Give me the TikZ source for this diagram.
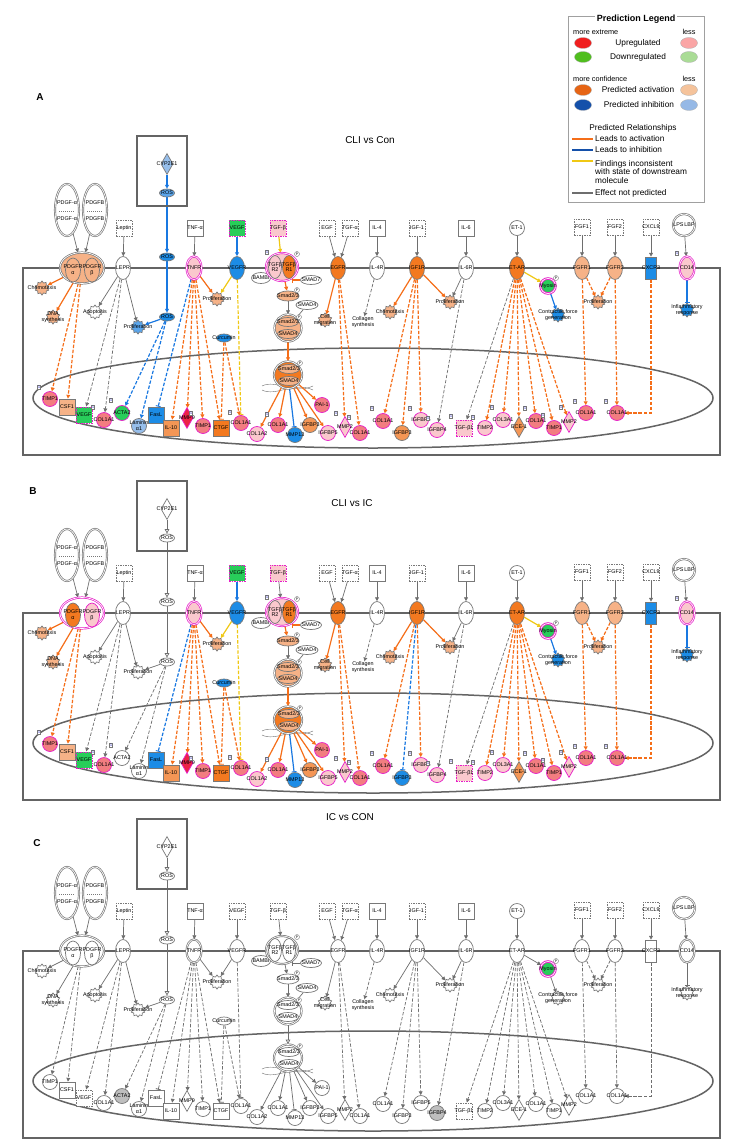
\documentclass[tikz,border=0pt]{standalone}
\usepackage{fontspec}
\setmainfont{Liberation Sans}
\usetikzlibrary{arrows.meta,shapes.geometric}
\pgfdeclarelayer{bg}
\pgfsetlayers{bg,main}
\definecolor{orS}{RGB}{243,121,32}
\definecolor{orM}{RGB}{244,150,85}
\definecolor{orL}{RGB}{246,178,135}
\definecolor{pkS}{RGB}{242,125,128}
\definecolor{pkL}{RGB}{250,200,205}
\definecolor{grn}{RGB}{40,205,90}
\definecolor{blS}{RGB}{28,140,230}
\definecolor{blM}{RGB}{90,165,235}
\definecolor{blL}{RGB}{150,190,235}
\definecolor{redS}{RGB}{235,35,70}
\definecolor{mag}{RGB}{230,30,200}
\definecolor{gry}{RGB}{120,120,120}
\definecolor{gryF}{RGB}{190,190,190}
\definecolor{memC}{RGB}{100,100,100}
\definecolor{actC}{RGB}{245,110,25}
\definecolor{inhC}{RGB}{25,120,225}
\definecolor{yelC}{RGB}{240,200,20}
\definecolor{npC}{RGB}{110,110,110}
\definecolor{legC}{RGB}{160,160,160}
\definecolor{lgR}{RGB}{240,30,30}
\definecolor{lgRl}{RGB}{250,165,165}
\definecolor{lgG}{RGB}{80,190,30}
\definecolor{lgGl}{RGB}{170,220,150}
\definecolor{lgO}{RGB}{230,100,20}
\definecolor{lgOl}{RGB}{245,195,155}
\definecolor{lgB}{RGB}{20,80,170}
\definecolor{lgBl}{RGB}{150,185,230}
\colorlet{ACT}{actC}\colorlet{INH}{inhC}\colorlet{YEL}{yelC}
\newcommand\lbf{\fontsize{5.4}{5.9}\selectfont}
\newcount\pnl
\def\pickof#1/#2/#3\relax{\ifcase\pnl\def\pk{#1}\or\def\pk{#2}\else\def\pk{#3}\fi}
\newcommand\W{white/white/white}
\newcommand\G{gry/gry/gry}
\newcommand\M{mag/mag/gry}
\newcommand\mol[6]{%
 \expandafter\pickof#5\relax\let\ff\pk
 \expandafter\pickof#6\relax\let\bb\pk
 \node[#1,fill=\ff,draw=\bb] (#2) at (#3) {};
 \node[lb] (#2t) at (#3) {#4};}
\tikzset{
 x=1pt,y=-1pt,
 lb/.style={font=\lbf,align=center,inner sep=0pt,text=black},
 shp/.style={inner sep=0pt,line width=0.7pt},
 sq/.style={shp,rectangle,minimum width=16,minimum height=16},
 sqd/.style={sq,dash pattern=on 1.5pt off 1pt},
 cir/.style={shp,circle,minimum size=15},
 rec/.style={shp,ellipse,minimum width=15,minimum height=23},
 chem/.style={shp,ellipse,minimum width=15,minimum height=8},
 dia/.style={shp,diamond,minimum width=12,minimum height=21},
 gear/.style={shp,star,star points=10,star point ratio=1.35,minimum size=14},
 dbl/.style={double=white,double distance=0.7pt},
 edgebase/.style={line width=1.2pt},
 dsh/.style={dash pattern=on 3.4pt off 1.7pt},
 tipT/.style={-{Triangle[width=3.8pt,length=3.8pt]}},
 tipB/.style={-{Bar[width=5pt,line width=0.9pt]}},
 act/.style={edgebase,draw=ACT,tipT},
 actd/.style={act,dsh},
 actT/.style={edgebase,draw=ACT,tipB},
 actdT/.style={actT,dsh},
 inh/.style={edgebase,draw=INH,tipB},
 inhd/.style={inh,dsh},
 blu/.style={edgebase,draw=INH,tipT},
 blud/.style={blu,dsh},
 yel/.style={edgebase,draw=YEL,tipT},
 yeldT/.style={edgebase,draw=YEL,tipB,dsh},
 np/.style={line width=0.7pt,draw=npC,tipT},
 npd/.style={np,dsh},
 npl/.style={line width=0.7pt,draw=npC},
 npo/.style={line width=0.7pt,draw=npC,-{Triangle[open,width=4.5pt,length=4.5pt]}},
 mem/.style={line width=1.5pt,draw=memC},
 onebox/.style={draw=gry,fill=white,font=\fontsize{3.5}{4}\selectfont,text=blue!70!black,inner sep=0.7pt},
 pc/.style={circle,draw=gry,fill=white,inner sep=0pt,minimum size=5,font=\fontsize{3.5}{4}\selectfont},
 ttl/.style={font=\bfseries\fontsize{10}{12}\selectfont},
 sub/.style={font=\fontsize{10}{12}\selectfont},
 lgs/.style={font=\fontsize{7.3}{8}\selectfont,inner sep=0pt},
 lgt/.style={font=\fontsize{8.3}{9}\selectfont,inner sep=0pt},
 lge/.style={ellipse,minimum width=17,minimum height=11,inner sep=0pt,draw=gry!60,line width=0.3pt},
}
\newcommand\setA{\pnl=0 \colorlet{ACT}{actC}\colorlet{INH}{inhC}\colorlet{YEL}{yelC}%
 \tikzset{X1/.style={blu},X2/.style={blud},X3/.style={actd},X4/.style={yel},X5/.style={blu},X6/.style={act}}}
\newcommand\setB{\pnl=1 \colorlet{ACT}{actC}\colorlet{INH}{inhC}\colorlet{YEL}{yelC}%
 \tikzset{X1/.style={npo},X2/.style={npd},X3/.style={inhd},X4/.style={np},X5/.style={np},X6/.style={act}}}
\newcommand\setC{\pnl=2 \colorlet{ACT}{npC}\colorlet{INH}{npC}\colorlet{YEL}{npC}%
 \tikzset{edgebase/.style={line width=0.7pt},X1/.style={npo},X2/.style={npd},X3/.style={npd},X4/.style={np},X5/.style={np},X6/.style={npo}}}
\newcommand\panel[1]{%
\begin{scope}[yshift=#1]
\draw[mem,line width=1.8pt] (137,136) rectangle (187,206);
% ---------- top ligands
\node[shp,ellipse,draw=gry,dbl,fill=white,minimum width=24,minimum height=52] (pdgfa) at (67,210) {};
\node[shp,ellipse,draw=gry,dbl,fill=white,minimum width=24,minimum height=52] (pdgfb) at (95,210) {};
\draw[gry,dash pattern=on 1pt off 1pt,line width=0.4pt] (59,211) -- (75,211) (87,211) -- (103,211);
\node[lb] (pdgfat1) at (67,203) {PDGF-α};
\node[lb] (pdgfat2) at (67,219) {PDGF-α};
\node[lb] (pdgfbt1) at (95,203) {PDGFB};
\node[lb] (pdgfbt2) at (95,219) {PDGFB};
\mol{sqd}{leptin}{124,228}{Leptin}{\W}{\G}
\mol{sq}{tnfa}{195,228}{TNF-α}{\W}{\G}
\mol{sqd,line width=1pt}{vegf}{237,228}{VEGF}{grn/grn/white}{\M}
\mol{sqd,line width=1pt}{tgfb}{278,228}{TGF-β}{pkL/pkL/white}{\M}
\mol{sqd}{egf}{327,228}{EGF}{\W}{\G}
\mol{sqd}{tgfa}{350,228}{TGF-α}{\W}{\G}
\mol{sq}{il4}{377,228}{IL-4}{\W}{\G}
\mol{sqd}{igf1}{417,228}{IGF-1}{\W}{\G}
\mol{sq}{il6}{466,228}{IL-6}{\W}{\G}
\mol{cir}{et1}{517,228}{ET-1}{\W}{\G}
\mol{sqd}{fgf1}{582,227}{FGF1}{\W}{\G}
\mol{sqd}{fgf2}{615,227}{FGF2}{\W}{\G}
\mol{sqd}{cxcl9}{651,227}{CXCL9}{\W}{\G}
\mol{shp,circle,dbl,minimum size=22}{lps}{684,225}{LPS\,LBP}{\W}{\G}
% ---------- ROS
\mol{dia}{cyp}{167,164}{CYP2E1}{blL/white/white}{\G}
\mol{chem}{rosA}{167,193}{ROS}{blM/white/white}{\G}
\mol{chem}{rosB}{167,257}{ROS}{blS/white/white}{\G}
\mol{chem}{rosC}{167,317}{ROS}{blS/white/white}{\G}
% ---------- membrane
\mol{shp,ellipse,dbl,minimum width=44,minimum height=31}{pdgfr}{82,268}{}{orL/white/white}{gry/mag/gry}
\mol{shp,ellipse,minimum width=15,minimum height=24}{pdgfra}{73,270}{PDGFR\\α}{orL/orS/white}{\G}
\mol{shp,ellipse,minimum width=15,minimum height=24}{pdgfrb}{92,270}{PDGFR\\β}{orL/pkL/white}{gry/mag/gry}
\mol{rec}{lepr}{123,268}{LEPR}{\W}{\G}
\mol{rec,dbl}{tnfr}{194,268}{TNFR}{pkL/pkL/white}{\M}
\mol{rec}{vegfr}{237,268}{VEGFR}{blS/blS/white}{\G}
\mol{shp,ellipse,minimum width=19,minimum height=11}{bambi}{261,278}{BAMBI}{\W}{\G}
\mol{shp,ellipse,dbl,minimum width=32,minimum height=28}{tgfbr}{282,267}{}{pkL/pkL/white}{\M}
\mol{shp,ellipse,minimum width=13,minimum height=23}{tgfr2}{275,267}{TGFβ\\R2}{pkL/pkL/white}{\G}
\mol{shp,ellipse,minimum width=13,minimum height=23}{tgfr1}{289,267}{TGFβ\\R1}{orS/orS/white}{\G}
\mol{shp,ellipse,minimum width=21,minimum height=9}{smad7}{311,280}{SMAD7}{\W}{\G}
\mol{shp,ellipse,minimum width=22,minimum height=10}{smad23}{288,296}{Smad2/3}{orL/orL/white}{\G}
\mol{shp,ellipse,minimum width=22,minimum height=9}{smad4}{307,305}{SMAD4}{\W}{\G}
\mol{shp,ellipse,dbl,minimum width=27,minimum height=27}{cplx}{288,328}{}{orL/orL/white}{\G}
\mol{shp,ellipse,minimum width=21,minimum height=9}{cxa}{288,322}{Smad2/3}{orL/orL/white}{\G}
\mol{shp,ellipse,minimum width=21,minimum height=9}{cxb}{288,334}{SMAD4}{orL/orL/white}{\G}
\mol{shp,ellipse,dbl,minimum width=28,minimum height=27}{nuc}{288,375}{}{orS/orS/white}{\G}
\mol{shp,ellipse,minimum width=21,minimum height=9}{nua}{289,369}{Smad2/3}{orL/orL/white}{\G}
\mol{shp,ellipse,minimum width=21,minimum height=9}{nub}{289,381}{SMAD4}{orL/orL/white}{\G}
\mol{rec}{egfr}{338,268}{EGFR}{orS/orS/white}{\G}
\mol{rec}{il4r}{377,268}{IL-4R}{\W}{\G}
\mol{rec}{igf1r}{417,268}{IGF1R}{orS/orS/white}{\G}
\mol{rec}{il6r}{466,268}{IL-6R}{\W}{\G}
\mol{rec}{etar}{517,268}{ET-AR}{orS/orS/white}{\G}
\mol{cir,dbl,line width=0.9pt}{myo}{548,286}{Myosin}{grn/grn/grn}{mag/mag/mag}
\mol{rec}{fgfr1}{582,268}{FGFR1}{orL/orL/white}{\G}
\mol{rec}{fgfr2}{615,268}{FGFR2}{orL/orL/white}{\G}
\mol{shp,rectangle,minimum width=11,minimum height=22}{cxcr3}{651,268}{CXCR3}{blS/blS/white}{\G}
\mol{rec,dbl}{cd14}{687,268}{CD14}{pkL/pkL/white}{\M}
% ---------- functions
\mol{gear}{chemoA}{42,288}{Chemotaxis}{orL/orL/white}{\G}
\mol{gear}{dna}{53,317}{DNA\\synthesis}{orL/orL/white}{\G}
\mol{gear}{apop}{95,312}{Apoptosis}{\W}{\G}
\mol{gear}{prolA}{138,327}{Proliferation}{blM/white/white}{\G}
\mol{gear}{prolT}{217,299}{Proliferation}{orL/orL/white}{\G}
\mol{chem}{curc}{224,338}{Curcumin}{blS/blS/white}{\G}
\mol{gear}{cmig}{325,320}{Cell\\migration}{orL/orL/white}{\G}
\node[lb] (csyn) at (363,322) {Collagen\\synthesis};
\mol{gear}{chemoB}{390,312}{Chemotaxis}{orL/orL/white}{\G}
\mol{gear}{prolI}{450,302}{Proliferation}{orL/orL/white}{\G}
\mol{gear}{contr}{558,315}{Contractile force\\generation}{blS/blS/white}{\G}
\mol{gear}{prolF}{598,302}{Proliferation}{orL/orL/white}{\G}
\mol{gear}{infl}{687,310}{Inflammatory\\response}{blS/blS/white}{\G}
% ---------- nucleus targets
\mol{cir}{timpA}{50,399}{TIMP1}{pkS/pkS/white}{\M}
\mol{sq}{csf1}{67,407}{CSF1}{orL/orL/white}{\G}
\mol{sqd,line width=1pt}{vegfB}{84,415}{VEGF}{grn/grn/white}{\M}
\mol{cir}{colA}{104,420}{COL1A1}{pkS/pkS/white}{\M}
\mol{cir}{acta2}{122,413}{ACTA2}{grn/white/gryF}{mag/gry/gry}
\mol{cir}{lam}{139,426}{Laminin\\α1}{blL/white/white}{\G}
\mol{sq}{fasl}{156,415}{FasL}{blS/blS/white}{\G}
\mol{sq}{il10}{171,428}{IL-10}{orM/orM/white}{\G}
\mol{dia}{mmp9}{187,418}{MMP9}{redS/redS/white}{\M}
\mol{cir}{timpB}{203,426}{TIMP1}{pkS/pkS/white}{\M}
\mol{sq}{ctgf}{221,428}{CTGF}{orS/orS/white}{\G}
\mol{cir}{colB}{241,423}{COL1A1}{pkS/pkS/white}{\M}
\mol{cir}{cola2}{257,434}{COL1A2}{pkL/pkL/white}{\M}
\mol{cir}{colC}{278,425}{COL1A1}{pkS/pkS/white}{\M}
\mol{cir}{mmp13}{295,435}{MMP13}{blS/blS/white}{\G}
\mol{cir}{igfbp3a}{310,425}{IGFBP3}{orM/orM/white}{\G}
\mol{cir}{pai1}{322,405}{PAI-1}{pkS/pkS/white}{\M}
\mol{cir}{igfbp5a}{328,433}{IGFBP5}{pkL/pkL/white}{\M}
\mol{dia}{mmp2a}{345,427}{MMP2}{pkL/pkL/white}{\M}
\mol{cir}{colD}{360,433}{COL1A1}{pkS/pkS/white}{\M}
\mol{cir}{colE}{383,421}{COL1A1}{pkS/pkS/white}{\M}
\mol{cir}{igfbp3b}{402,433}{IGFBP3}{orM/blS/white}{\G}
\mol{cir}{igfbp5b}{421,420}{IGFBP5}{pkL/pkL/white}{\M}
\mol{cir}{igfbp4}{437,430}{IGFBP4}{pkL/pkL/gryF}{\M}
\mol{sqd,line width=1pt}{tgfb1}{464,428}{TGF-β1}{pkL/pkL/white}{\M}
\mol{cir}{timp2}{485,428}{TIMP2}{pkL/pkL/white}{\M}
\mol{cir}{col3}{503,420}{COL3A1}{pkL/pkL/white}{\M}
\mol{dia}{ece1}{519,427}{ECE-1}{orM/orM/white}{\G}
\mol{cir}{colF}{536,421}{COL1A1}{pkS/pkS/white}{\M}
\mol{cir}{timpC}{554,428}{TIMP1}{pkS/pkS/white}{\M}
\mol{dia}{mmp2b}{569,422}{MMP2}{pkL/pkL/white}{\M}
\mol{cir}{colG}{586,413}{COL1A1}{pkS/pkS/white}{\M}
\mol{cir}{colH}{617,413}{COL1A1}{pkS/pkS/white}{\M}
% ---------- phospho and count marks
\foreach \q [count=\i] in {{297,254},{297,290},{299,317},{300,363},{556,278}}
  \node[pc] (ph\i) at (\q) {P};
\ifnum\pnl<2
\foreach \q [count=\i] in {{39,387},{93,407},{111,400},{191,413},{230,412},{267,414},{336,413},{349,417},{372,408},{410,408},{428,418},{451,416},{473,417},{492,407},{525,408},{543,415},{561,407},{575,401},{606,401},{677,253},{267,252}}
  \node[onebox] (one\i) at (\q) {1};
\fi
\coordinate (s7t) at (292,280);
% ---------- connectors
\begin{pgfonlayer}{bg}
\draw[mem] (23,268) -- (720,268) -- (720,455) -- (23,455) -- cycle;
\draw[mem] (373,398) ellipse [x radius=340, y radius=50];
\draw[npl,line width=0.4pt] (262,386) .. controls (276,379) and (294,395) .. (313,386);
\draw[npl,line width=0.4pt] (262,390) .. controls (276,397) and (294,381) .. (313,390);
\draw[np] (pdgfa) -- (pdgfr);
\draw[np] (pdgfb) -- (pdgfr);
\draw[np] (leptin) -- (lepr);
\draw[np] (tnfa) -- (tnfr);
\draw[blu] (vegf) -- (vegfr);
\draw[X4] (tgfb) -- (tgfbr);
\draw[np] (egf) -- (egfr);
\draw[np] (tgfa) -- (egfr);
\draw[np] (il4) -- (il4r);
\draw[np] (igf1) -- (igf1r);
\draw[np] (il6) -- (il6r);
\draw[np] (et1) -- (etar);
\draw[np] (fgf1) -- (fgfr1);
\draw[np] (fgf2) -- (fgfr2);
\draw[np] (cxcl9) -- (cxcr3);
\draw[np] (lps) -- (cd14);
\draw[X1] (cyp) -- (rosA);
\draw[X1] (rosA) -- (rosB);
\draw[X1] (rosB) -- (rosC);
\draw[act] (pdgfr) -- (chemoA);
\draw[act] (pdgfr) -- (dna);
\draw[actd] (pdgfr) -- (timpA);
\draw[actd] (pdgfr) -- (csf1);
\draw[np] (lepr) -- (apop);
\draw[np] (lepr) -- (prolA);
\draw[npd] (lepr) -- (vegfB);
\draw[npd] (lepr) -- (colA);
\draw[X5] (rosC) -- (prolA);
\draw[X2] (rosC) -- (acta2);
\draw[X2] (rosC) -- (lam);
\draw[act] (tnfr) -- (prolT);
\draw[inhd] (tnfr) -- (fasl);
\draw[actd] (tnfr) -- (il10);
\draw[actd] (tnfr) -- (mmp9);
\draw[actd] (tnfr) -- (timpB);
\draw[actd] (tnfr) -- (ctgf);
\draw[yel] (vegfr) -- (prolT);
\draw[yeldT] (vegfr) -- (colB);
\draw[actdT] (curc) -- (ctgf);
\draw[actd] (curc) -- (colB);
\draw[act] (tgfbr) -- (smad23);
\draw[actT] (smad7) -- (s7t);
\draw[npl] (bambi) -- (tgfbr);
\draw[np] (smad23) -- (cplx);
\draw[npl] (smad4) -- (cplx);
\draw[X6] (cplx) -- (nuc);
\draw[act] (nuc) -- (cola2);
\draw[act] (nuc) -- (colC);
\draw[inh] (nuc) -- (mmp13);
\draw[act] (nuc) -- (igfbp3a);
\draw[act] (nuc) -- (igfbp5a);
\draw[act] (nuc) -- (pai1);
\draw[act] (egfr) -- (cmig);
\draw[actd] (egfr) -- (mmp2a);
\draw[actd] (egfr) -- (colD);
\draw[npd] (il4r) -- (csyn);
\draw[act] (igf1r) -- (chemoB);
\draw[act] (igf1r) -- (prolI);
\draw[actd] (igf1r) -- (colE);
\draw[X3] (igf1r) -- (igfbp3b);
\draw[actd] (igf1r) -- (igfbp5b);
\draw[np] (il6r) -- (prolI);
\draw[npd] (il6r) -- (igfbp4);
\draw[yel] (etar) -- (myo);
\draw[blu] (myo) -- (contr);
\draw[npd] (etar) -- (tgfb1);
\draw[actd] (etar) -- (timp2);
\draw[actd] (etar) -- (col3);
\draw[actd] (etar) -- (ece1);
\draw[actd] (etar) -- (colF);
\draw[actd] (etar) -- (timpC);
\draw[actd] (etar) -- (mmp2b);
\draw[actd] (fgfr1) -- (prolF);
\draw[actd] (fgfr2) -- (prolF);
\draw[actd] (fgfr1) -- (colG);
\draw[actd] (fgfr2) -- (colH);
\draw[actd] (cxcr3) |- (colH);
\draw[inh] (cd14) -- (infl);
\end{pgfonlayer}
\end{scope}}
\begin{document}
\begin{tikzpicture}
\useasboundingbox (0,0) rectangle (738,1148);
\begin{pgfonlayer}{bg}
\fill[white] (0,0) rectangle (738,1148);
\end{pgfonlayer}
% legend
\draw[draw=legC,line width=0.7pt] (568,16) rectangle (704,202);
\node[fill=white,inner sep=1.5pt,font=\bfseries\fontsize{9}{10}\selectfont] (lgT) at (636,19) {Prediction Legend};
\node[lgs,anchor=west] (lg1) at (573,32) {more extreme};
\node[lgs] (lg2) at (689,32) {less};
\node[lge,fill=lgR] (lgE1) at (583,43) {};
\node[lgt] (lgU) at (638,43) {Upregulated};
\node[lge,fill=lgRl] (lgE2) at (689,43) {};
\node[lge,fill=lgG] (lgE3) at (583,57) {};
\node[lgt] (lgD) at (638,57) {Downregulated};
\node[lge,fill=lgGl] (lgE4) at (689,57) {};
\node[lgs,anchor=west] (lg3) at (573,79) {more confidence};
\node[lgs] (lg4) at (689,79) {less};
\node[lge,fill=lgO] (lgE5) at (583,90) {};
\node[lgt] (lgA) at (638,90) {Predicted activation};
\node[lge,fill=lgOl] (lgE6) at (689,90) {};
\node[lge,fill=lgB] (lgE7) at (583,105) {};
\node[lgt] (lgI) at (639,105) {Predicted inhibition};
\node[lge,fill=lgBl] (lgE8) at (689,105) {};
\node[lgt] (lgPR) at (633,128) {Predicted Relationships};
\coordinate (la1) at (572,139); \coordinate (lb1) at (593,139);
\coordinate (la2) at (572,150); \coordinate (lb2) at (593,150);
\coordinate (la3) at (572,161); \coordinate (lb3) at (593,161);
\coordinate (la4) at (572,193); \coordinate (lb4) at (593,193);
\draw[actC,line width=1.5pt] (la1) -- (lb1);
\draw[lgB,line width=1.5pt] (la2) -- (lb2);
\draw[yelC,line width=1.5pt] (la3) -- (lb3);
\draw[npC,line width=1.5pt] (la4) -- (lb4);
\node[lgt,anchor=west] (lgL1) at (595,139) {Leads to activation};
\node[lgt,anchor=west] (lgL2) at (595,150) {Leads to inhibition};
\node[lgt,anchor=west,align=left] (lgL3) at (595,172) {Findings inconsistent\\[-0.4pt]with state of downstream\\[-0.4pt]molecule};
\node[lgt,anchor=west] (lgL4) at (595,193) {Effect not predicted};
% titles
\node[ttl] (tA) at (40,97) {A};
\node[sub] (sA) at (370,140) {CLI vs Con};
\node[ttl] (tB) at (33,491) {B};
\node[sub] (sB) at (352,503) {CLI vs IC};
\node[ttl] (tC) at (37,843) {C};
\node[sub] (sC) at (350,817) {IC vs CON};
% panels
\setA\panel{0pt}
\setB\panel{-345pt}
\setC\panel{-683pt}
\end{tikzpicture}
\end{document}
